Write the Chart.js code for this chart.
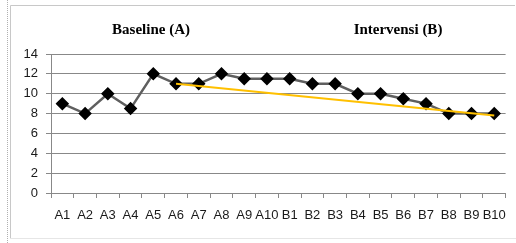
<!DOCTYPE html>
<html>
<head>
<meta charset="utf-8">
<script src="https://cdn.jsdelivr.net/npm/chart.js@4/dist/chart.umd.min.js"></script>
<style>
  html, body { margin: 0; padding: 0; background: #fff; }
  #wrap { width: 516px; height: 243px; position: relative; }
</style>
</head>
<body>
<div id="wrap"><canvas id="chart"></canvas></div>
<script>
const sessions = ["A1","A2","A3","A4","A5","A6","A7","A8","A9","A10",
                  "B1","B2","B3","B4","B5","B6","B7","B8","B9","B10"];
const scores = [9, 8, 10, 8.5, 12, 11, 11, 12, 11.5, 11.5,
                11.5, 11, 11, 10, 10, 9.5, 9, 8, 8, 8];
// trend line from A6 to B10
const trend = [null, null, null, null, null, 11, null, null, null, null,
               null, null, null, null, null, null, null, null, null, 7.8];
const yTicks = [0, 2, 4, 6, 8, 10, 12, 14];
const phaseTitles = ["Baseline (A)", "Intervensi (B)"];

// frame and phase titles
const decor = {
    id: 'decor',
    beforeDraw(chart) {
        const ctx = chart.ctx;
        ctx.save();
        ctx.strokeStyle = '#c8c8c8';
        ctx.lineWidth = 1;
        ctx.beginPath();
        ctx.moveTo(10.5, 238.5);
        ctx.lineTo(10.5, 5.5);
        ctx.lineTo(515, 5.5);
        ctx.stroke();
        ctx.strokeStyle = '#e6e6e6';
        ctx.beginPath();
        ctx.moveTo(10.5, 238.5);
        ctx.lineTo(516, 238.5);
        ctx.stroke();
        ctx.setLineDash([1, 1]);
        ctx.strokeStyle = '#b0b0b0';
        ctx.beginPath();
        ctx.moveTo(7.5, 0);
        ctx.lineTo(7.5, 243);
        ctx.stroke();
        ctx.restore();
    },
    afterDraw(chart) {
        const ctx = chart.ctx;
        ctx.save();
        ctx.fillStyle = '#000';
        ctx.font = 'bold 15px "Liberation Serif", serif';
        ctx.textAlign = 'center';
        ctx.textBaseline = 'middle';
        ctx.fillText(phaseTitles[0], 151, 30);
        ctx.fillText(phaseTitles[1], 398, 30);
        ctx.restore();
    }
};

new Chart(document.getElementById('chart'), {
    type: 'line',
    data: {
        labels: sessions,
        datasets: [{
            data: scores,
            borderColor: '#5f5f5f',
            borderWidth: 2.5,
            pointStyle: 'rectRot',
            pointRadius: 5,
            pointBackgroundColor: '#000',
            pointBorderColor: '#000',
            tension: 0,
            order: 1
        }, {
            data: trend,
            borderColor: '#ffc000',
            borderWidth: 2,
            pointRadius: 0,
            spanGaps: true,
            order: 0
        }]
    },
    options: {
        responsive: true,
        maintainAspectRatio: false,
        animation: false,
        layout: { padding: { top: 54, right: 8, left: 0, bottom: 0 } },
        plugins: {
            legend: { display: false },
            tooltip: { enabled: false }
        },
        scales: {
            x: {
                offset: true,
                afterFit: s => { s.height = 50; },
                grid: {
                    offset: true,
                    drawOnChartArea: false,
                    drawTicks: true,
                    tickLength: 5,
                    color: '#888'
                },
                border: { color: '#888' },
                ticks: {
                    color: '#1a1a1a',
                    padding: 10,
                    maxRotation: 0,
                    autoSkip: false,
                    font: { family: '"Liberation Sans", sans-serif', size: 13 }
                }
            },
            y: {
                min: 0,
                max: 14,
                afterFit: s => { s.width = 51; },
                afterBuildTicks: s => { s.ticks = yTicks.map(v => ({ value: v })); },
                grid: { color: '#888', tickLength: 5 },
                border: { color: '#888' },
                ticks: {
                    color: '#1a1a1a',
                    padding: 8,
                    font: { family: '"Liberation Sans", sans-serif', size: 13 }
                }
            }
        }
    },
    plugins: [decor]
});
</script>
</body>
</html>
